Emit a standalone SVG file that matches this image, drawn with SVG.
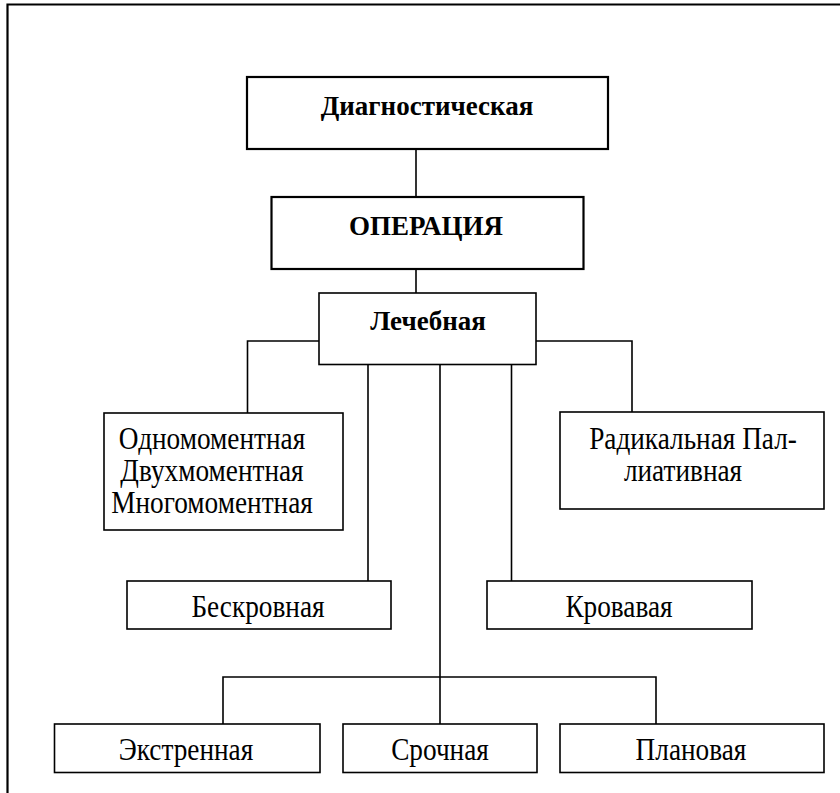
<svg xmlns="http://www.w3.org/2000/svg" width="840" height="793" viewBox="0 0 840 793">
<style>
.box{fill:#fff;stroke:#000;stroke-width:1.6}
.boxb{fill:#fff;stroke:#000;stroke-width:2.2}
.con{fill:none;stroke:#000;stroke-width:1.6}
text{font-family:"Liberation Serif","Times New Roman",serif;fill:#000;text-anchor:middle}
.b{font-weight:bold;font-size:27px}
.n{font-size:31px}
</style>
<rect width="840" height="793" fill="#fff"/>
<path d="M7.5 793 V4.5 H840" fill="none" stroke="#000" stroke-width="2.2"/>
<g id="connectors">
<line class="con" x1="416" y1="149" x2="416" y2="197"/>
<line class="con" x1="416" y1="269" x2="416" y2="293"/>
<path class="con" d="M319 341 H247.5 V413"/>
<path class="con" d="M536 341 H632 V412"/>
<line class="con" x1="368" y1="364" x2="368" y2="581"/>
<line class="con" x1="511.5" y1="364" x2="511.5" y2="581"/>
<line class="con" x1="440" y1="364" x2="440" y2="724"/>
<path class="con" d="M223 724 V677 H656 V724"/>
</g>
<g id="diag"><rect class="boxb" x="247" y="77" width="361" height="72"/><text class="b" x="427" y="115">Диагностическая</text></g>
<g id="operation"><rect class="boxb" x="271.5" y="197" width="312" height="72"/><text class="b" x="426" y="235">ОПЕРАЦИЯ</text></g>
<g id="lechebnaya"><rect class="box" x="319" y="293" width="217" height="71.5"/><text class="b" x="428" y="330">Лечебная</text></g>
<g id="moment"><rect class="box" x="104" y="413" width="239" height="117"/>
<text class="n" transform="translate(212 449) scale(0.88 1)"><tspan x="0" y="0">Одномоментная</tspan><tspan x="0" y="32">Двухмоментная</tspan><tspan x="0" y="64">Многомоментная</tspan></text></g>
<g id="radical"><rect class="box" x="560" y="412" width="264" height="97"/>
<text class="n" transform="translate(693 449) scale(0.88 1)">Радикальная Пал-</text>
<text class="n" transform="translate(683 481) scale(0.88 1)">лиативная</text></g>
<g id="beskrovnaya"><rect class="box" x="127" y="581" width="264" height="48"/><text class="n" transform="translate(258 617) scale(0.88 1)">Бескровная</text></g>
<g id="krovavaya"><rect class="box" x="487" y="581" width="265" height="48"/><text class="n" transform="translate(619 617) scale(0.88 1)">Кровавая</text></g>
<g id="ekstrennaya"><rect class="box" x="54.5" y="724" width="265.5" height="48.5"/><text class="n" transform="translate(186 760) scale(0.88 1)">Экстренная</text></g>
<g id="srochnaya"><rect class="box" x="343" y="724" width="194" height="48.5"/><text class="n" transform="translate(440 760) scale(0.88 1)">Срочная</text></g>
<g id="planovaya"><rect class="box" x="560" y="724" width="264" height="48.5"/><text class="n" transform="translate(691 760) scale(0.88 1)">Плановая</text></g>
</svg>
